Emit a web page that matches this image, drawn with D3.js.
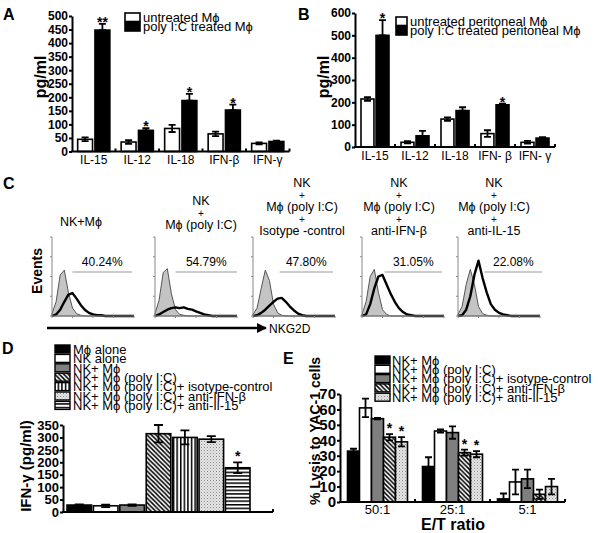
<!DOCTYPE html>
<html><head><meta charset="utf-8">
<script src="https://cdn.jsdelivr.net/npm/d3@7"></script>
<style>body{margin:0;background:#fff}svg{display:block}</style>
</head><body>
<svg id="c" width="598" height="533"></svg>
<script>
// ---------------- DATA ----------------
// Panel A
const cytokinesA = ["IL-15","IL-12","IL-18","IFN-β","IFN-γ"];
const aUntreated = [45,35,85,65,30];
const aUntreatedErr = [7,7,13,8,4];
const aTreated = [448,78,188,153,37];
const aTreatedErr = [23,8,25,20,3];
const aStars = ["**","*","*","*",""];
const aTicks = [0,50,100,150,200,250,300,350,400,450,500];
const aLegend = ["untreated Mϕ","poly I:C treated  Mϕ"];
// Panel B
const cytokinesB = ["IL-15","IL-12","IL-18","IFN- β","IFN- γ"];
const bUntreated = [215,21,125,60,21];
const bUntreatedErr = [8,5,8,15,6];
const bTreated = [500,50,163,189,40];
const bTreatedErr = [68,22,15,5,4];
const bStars = ["*","","","*",""];
const bTicks = [0,100,200,300,400,500,600];
const bLegend = ["untreated peritoneal Mϕ","poly I:C treated peritoneal Mϕ"];
// Panel C (flow histograms, log decades 10^0..10^4)
const cTitles = [["NK+Mϕ"],["NK","+","Mϕ (poly I:C)"],["NK","+","Mϕ (poly I:C)","+","Isotype -control"],["NK","+","Mϕ (poly I:C)","+","anti-IFN-β"],["NK","+","Mϕ (poly I:C)","+","anti-IL-15"]];
const cPercent = ["40.24%","54.79%","47.80%","31.05%","22.08%"];
const cGateStart = [1.0,1.0,1.3,1.1,1.3];
const cGateEnd = [3.9,4.0,3.9,3.9,4.1];
const histBins = [0,0.2,0.4,0.6,0.8,1.0,1.2,1.4,1.6,1.8,2.0,2.2,2.4,2.6,2.8,3.0,3.2,3.4,3.6,3.8,4.0];
const histGray = [
 [3,18,52,58,30,10,3,1,0,0,0,0,0,0,0,0,0,0,0,0,0],
 [3,20,55,60,28,8,2,1,0,0,0,0,0,0,0,0,0,0,0,0,0],
 [2,10,35,58,45,15,4,1,0,0,0,0,0,0,0,0,0,0,0,0,0],
 [2,18,50,59,30,8,2,0,0,0,0,0,0,0,0,0,0,0,0,0,0],
 [2,12,40,59,40,12,3,1,0,0,0,0,0,0,0,0,0,0,0,0,0]
];
const histBlack = [
 [0,2,8,18,27,29,22,14,8,4,2,1,1,0,0,0,0,0,0,0,0],
 [0,2,5,8,10,11,10,11,9,8,6,4,2,1,0,0,0,0,0,0,0],
 [0,1,4,8,13,18,22,23,18,12,7,3,1,0,0,0,0,0,0,0,0],
 [0,2,15,35,50,52,40,28,18,10,5,2,1,0,0,0,0,0,0,0,0],
 [0,1,8,25,52,70,48,30,15,8,4,2,1,0,0,0,0,0,0,0,0]
];
// Panel D
const dGroups = ["Mϕ alone","NK alone","NK+ Mϕ","NK+ Mϕ (poly I:C)","NK+ Mϕ (poly I:C)+ isotype-control","NK+ Mϕ (poly I:C)+ anti-IFN-β","NK+ Mϕ (poly I:C)+ anti-Il-15"];
const dFills = ["black","white","gray","diag","vert","dots","horiz"];
const dValues = [28,25,28,315,300,293,178];
const dErr = [3,5,3,35,28,12,22];
const dStars = ["","","","","","","*"];
const dTicks = [0,50,100,150,200,250,300,350];
// Panel E
const eRatios = ["50:1","25:1","5:1"];
const eSeries = ["NK+ Mϕ","NK+ Mϕ (poly I:C)","NK+ Mϕ (poly I:C)+ isotype-control","NK+ Mϕ (poly I:C)+ anti-IFN-β","NK+ Mϕ (poly I:C)+ anti-Il-15"];
const eFills = ["black","white","gray","diag","dots"];
const eValues = [[33,23,2],[61,46,13],[54,45,15],[42,32,5],[39,31,10]];
const eErr = [[1.5,6,3.5],[6,1,8],[0.5,4,6],[2,2,3],[3,2,5]];
const eStars = [["","",""],["","",""],["","",""],["*","*",""],["*","*",""]];
const eTicks = [0,10,20,30,40,50,60,70];

// ---------------- DRAW ----------------
const FONT = "'Liberation Sans', Arial, Helvetica, sans-serif";
const svg = d3.select("#c").attr("font-family", FONT);
const defs = svg.append("defs");
function pat(id, w, h, draw){
  const p = defs.append("pattern").attr("id",id).attr("patternUnits","userSpaceOnUse").attr("width",w).attr("height",h);
  p.append("rect").attr("width",w).attr("height",h).attr("fill","#fff");
  draw(p);
}
pat("diag",4.5,4.5,p=>p.append("path").attr("d","M-1,-1L5.5,5.5M-1,3.5L1,5.5M3.5,-1L5.5,1").attr("stroke","#000").attr("stroke-width",1.5));
pat("vert",3.6,4,p=>p.append("rect").attr("x",0).attr("width",1.5).attr("height",4).attr("fill","#000"));
pat("horiz",4,3.6,p=>p.append("rect").attr("y",0).attr("height",1.5).attr("width",4).attr("fill","#000"));
pat("dots",3,3,p=>{p.select("rect").attr("fill","#e6e6e6");p.append("rect").attr("x",0).attr("y",0).attr("width",1).attr("height",1).attr("fill","#888");p.append("rect").attr("x",1.5).attr("y",1.5).attr("width",1).attr("height",1).attr("fill","#aaa");});
const fillOf = f => ({black:"#000",white:"#fff",gray:"#7f7f7f",diag:"url(#diag)",vert:"url(#vert)",horiz:"url(#horiz)",dots:"url(#dots)"})[f];

function yAxis(scale, ticks, x, fs){
  const a = svg.append("g").attr("transform",`translate(${x},0)`)
    .call(d3.axisLeft(scale).tickValues(ticks).tickSize(3).tickSizeOuter(0).tickPadding(1));
  a.attr("font-family",FONT).attr("font-size",fs).attr("font-weight","bold");
  a.select(".domain").attr("stroke","#000").attr("stroke-width",2);
  a.selectAll(".tick line").attr("stroke","#000").attr("stroke-width",2);
  a.selectAll(".tick text").attr("fill","#000");
  return a;
}
function baseline(x0,x1,y){
  svg.append("line").attr("x1",x0-1).attr("x2",x1).attr("y1",y).attr("y2",y).attr("stroke","#000").attr("stroke-width",2);
}
function betweenTicks(band, y){
  const r0 = band.range()[0];
  band.domain().forEach((d,i)=>{
    const x = r0 + (i+1)*band.step();
    svg.append("line").attr("x1",x).attr("x2",x).attr("y1",y).attr("y2",y-3).attr("stroke","#000").attr("stroke-width",2);
  });
}
function bar(x,w,yTop,yBase,fill){
  svg.append("rect").attr("x",x).attr("y",yTop).attr("width",w).attr("height",Math.max(0,yBase-yTop))
    .attr("fill",fillOf(fill)).attr("stroke","#000").attr("stroke-width",1.6);
}
function err(cx, yHi, yLo, cap){
  svg.append("path").attr("d",`M${cx},${yHi}V${yLo}M${cx-cap/2},${yHi}H${cx+cap/2}M${cx-cap/2},${yLo}H${cx+cap/2}`)
    .attr("stroke","#000").attr("stroke-width",1.8).attr("fill","none");
}
function star(cx, y, s, fs){
  if(!s) return;
  svg.append("text").attr("x",cx).attr("y",y).attr("text-anchor","middle").attr("font-size",fs).attr("font-weight","bold").text(s);
}
function label(t,x,y,fs,opts={}){
  const el = svg.append("text").attr("x",x).attr("y",y).attr("font-size",fs).text(t);
  if(opts.bold) el.attr("font-weight","bold");
  if(opts.anchor) el.attr("text-anchor",opts.anchor);
  return el;
}
function vlabel(t,cx,cy,fs){
  svg.append("text").attr("transform",`translate(${cx},${cy}) rotate(-90)`).attr("text-anchor","middle")
    .attr("dominant-baseline","central").attr("font-size",fs).attr("font-weight","bold").text(t);
}

// ---- Panel A & B (same structure)
function panelAB(cfg){
  const x = d3.scaleBand().domain(cfg.cats).range(cfg.xr).paddingInner(cfg.pad).paddingOuter(cfg.pad/2);
  const sub = d3.scaleBand().domain(["u","t"]).range([0,x.bandwidth()]).paddingInner(0.14);
  const y = d3.scaleLinear().domain(cfg.ydom).range(cfg.yr);
  cfg.cats.forEach((c,i)=>{
    const xu = x(c)+sub("u"), xt = x(c)+sub("t"), bw = sub.bandwidth();
    bar(xu,bw,y(cfg.u[i]),y(0),"white");
    err(xu+bw/2, y(cfg.u[i]+cfg.ue[i]), y(cfg.u[i]-cfg.ue[i]), 7);
    bar(xt,bw,y(cfg.t[i]),y(0),"black");
    err(xt+bw/2, y(cfg.t[i]+cfg.te[i]), y(cfg.t[i]), 7);
    star(xt+bw/2, y(cfg.t[i]+cfg.te[i])+3, cfg.stars[i], 14);
    label(c, x(c)+x.bandwidth()/2, cfg.labY, 12, {anchor:"middle"});
  });
  baseline(cfg.xr[0], cfg.xr[1], y(0));
  betweenTicks(x, y(0));
  yAxis(y, cfg.ticks, cfg.xr[0], 12);
  vlabel("pg/ml", cfg.ylabX, 77, 16);
  label(cfg.letter, cfg.letterX, 20, 16, {bold:true});
  // legend
  const lg = cfg.leg;
  [["white",lg.y0],["black",lg.y0+9.5]].forEach(([f,yy],k)=>{
    svg.append("rect").attr("x",lg.x).attr("y",yy).attr("width",lg.w).attr("height",8.5).attr("fill",fillOf(f)).attr("stroke","#000").attr("stroke-width",1.6);
    label(cfg.legText[k], lg.x+lg.w+3, yy+8.5, 13);
  });
}
panelAB({cats:cytokinesA,u:aUntreated,ue:aUntreatedErr,t:aTreated,te:aTreatedErr,stars:aStars,ticks:aTicks,
  xr:[72,289.5],pad:0.26,ydom:[0,500],yr:[151.5,16],labY:164,ylabX:40,letter:"A",letterX:3,
  leg:{x:125,y0:13,w:15},legText:aLegend});
panelAB({cats:cytokinesB,u:bUntreated,ue:bUntreatedErr,t:bTreated,te:bTreatedErr,stars:bStars,ticks:bTicks,
  xr:[355,555],pad:0.3,ydom:[0,600],yr:[147,13],labY:160,ylabX:323,letter:"B",letterX:298,
  leg:{x:396,y0:17,w:11},legText:bLegend});

// ---- Panel C
label("C",3,189,16,{bold:true});
const cAxisX = [52,155,253,362,458], cW = 82, cBase = 316, cTop = 237;
const cTitleX = [81,201,302,399,494], cTitleBottom = [226,229,235,235,235];
const hy = d3.scaleLinear().domain([0,100]).range([cBase,cTop]);
cAxisX.forEach((ox,i)=>{
  const hx = d3.scaleLinear().domain([0,4]).range([ox,ox+cW]);
  const g = svg.append("g");
  const pts = (arr)=>histBins.map((b,k)=>[b,arr[k]]);
  g.append("path").datum(pts(histGray[i]))
    .attr("d",d3.area().x(d=>hx(d[0])).y0(cBase).y1(d=>hy(d[1])).curve(d3.curveLinear))
    .attr("fill","#c4c4c4").attr("stroke","#555").attr("stroke-width",1);
  g.append("path").datum(pts(histBlack[i]))
    .attr("d",d3.line().x(d=>hx(d[0])).y(d=>hy(d[1])).curve(d3.curveLinear))
    .attr("fill","none").attr("stroke","#000").attr("stroke-width",2.4).attr("stroke-linejoin","round");
  // axes
  g.append("line").attr("x1",ox).attr("x2",ox).attr("y1",cBase).attr("y2",cTop).attr("stroke","#888").attr("stroke-width",1);
  g.append("line").attr("x1",ox).attr("x2",ox+cW).attr("y1",cBase).attr("y2",cBase).attr("stroke","#888").attr("stroke-width",1);
  [0,1,2,3,4].forEach(t=>g.append("line").attr("x1",hx(t)).attr("x2",hx(t)).attr("y1",cBase).attr("y2",cBase+2).attr("stroke","#888"));
  [0,25,50,75,100].forEach(t=>g.append("line").attr("x1",ox).attr("x2",ox-2).attr("y1",hy(t)).attr("y2",hy(t)).attr("stroke","#888"));
  // gate
  const gx0 = hx(cGateStart[i]), gx1 = hx(cGateEnd[i]);
  g.append("line").attr("x1",gx0).attr("x2",gx1).attr("y1",272).attr("y2",272).attr("stroke","#999").attr("stroke-width",1.2);
  label(cPercent[i], (gx0+gx1)/2, 266, 12, {anchor:"middle"});
  // title
  const lines = cTitles[i];
  lines.forEach((t,k)=>{
    const yy = cTitleBottom[i] - (lines.length-1-k)*12;
    label(t, cTitleX[i], yy, t==="+"?10:12.5, {anchor:"middle"});
  });
});
svg.append("defs").append("marker").attr("id","arr").attr("viewBox","0 0 10 10").attr("refX",9).attr("refY",5)
  .attr("markerWidth",4).attr("markerHeight",4).attr("orient","auto")
  .append("path").attr("d","M0,0L10,5L0,10Z").attr("fill","#000");
svg.append("line").attr("x1",47).attr("x2",266).attr("y1",328).attr("y2",328).attr("stroke","#000").attr("stroke-width",2.5).attr("marker-end","url(#arr)");
label("NKG2D",269,332.5,12);
svg.append("text").attr("transform","translate(37,271) rotate(-90)").attr("text-anchor","middle")
  .attr("dominant-baseline","central").attr("font-size",14).attr("font-weight","bold").text("Events");

// ---- Panel D
label("D",2,354,16,{bold:true});
const dx = d3.scaleBand().domain(dGroups).range([67,250]).paddingInner(0.07);
const dy = d3.scaleLinear().domain([0,350]).range([512,425]);
dGroups.forEach((g,i)=>{
  const x0 = dx(g), bw = dx.bandwidth();
  bar(x0,bw,dy(dValues[i]),dy(0),dFills[i]);
  err(x0+bw/2, dy(dValues[i]+dErr[i]), dy(dValues[i]-dErr[i]), 9);
  star(x0+bw/2, dy(dValues[i]+dErr[i])-1, dStars[i], 14);
});
baseline(63,273,dy(0));
svg.append("line").attr("x1",273).attr("x2",273).attr("y1",dy(0)).attr("y2",dy(0)-3).attr("stroke","#000").attr("stroke-width",2);
yAxis(dy, dTicks, 63, 13);
vlabel("IFN-γ (pg/ml)", 25, 466, 15);
dGroups.forEach((g,i)=>{
  const cy = 349 + i*9.4;
  svg.append("rect").attr("x",55).attr("y",cy-4).attr("width",15).attr("height",8).attr("fill",fillOf(dFills[i])).attr("stroke","#000").attr("stroke-width",1.4);
  label(g, 73, cy+4.7, 13);
});

// ---- Panel E
label("E",283,364,16,{bold:true});
const ex = d3.scaleBand().domain(eRatios).range([340,565]).paddingInner(0.2).paddingOuter(0.1);
const es = d3.scaleBand().domain(eSeries).range([0,ex.bandwidth()]);
const ey = d3.scaleLinear().domain([0,70]).range([502,394]);
eSeries.forEach((s,j)=>{
  eRatios.forEach((r,i)=>{
    const x0 = ex(r)+es(s), bw = es.bandwidth(), v = eValues[j][i], e = eErr[j][i];
    bar(x0,bw,ey(v),ey(0),eFills[j]);
    err(x0+bw/2, ey(v+e), ey(Math.max(0,v-e)), 7);
    star(x0+bw/2, ey(v+e)-1, eStars[j][i], 14);
  });
});
baseline(340,565,ey(0));
betweenTicks(ex, ey(0));
yAxis(ey, eTicks, 340, 15);
eRatios.forEach(r=>label(r, ex(r)+ex.bandwidth()/2, 514, 13, {anchor:"middle"}));
label("E/T ratio", 453, 530, 16, {bold:true, anchor:"middle"});
vlabel("% Lysis to YAC-1 cells", 315, 431, 14);
eSeries.forEach((s,j)=>{
  const cy = 360 + j*9.3;
  svg.append("rect").attr("x",375).attr("y",cy-4).attr("width",15).attr("height",8).attr("fill",fillOf(eFills[j])).attr("stroke","#000").attr("stroke-width",1.4);
  label(s, 392, cy+4.7, 13);
});
</script>
</body></html>
